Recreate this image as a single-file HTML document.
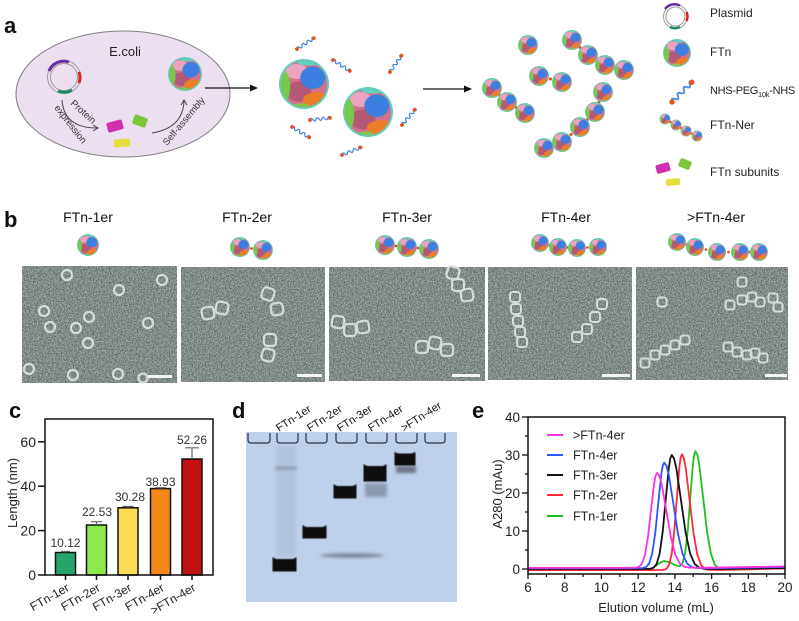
<!DOCTYPE html>
<html><head><meta charset="utf-8"><style>
html,body{margin:0;padding:0;background:#fff;}
svg{display:block;}
text{font-family:"Liberation Sans",Arial,sans-serif;}
.r{fill:none;stroke:#d6dcdb;stroke-width:2.2}
.r2{fill:none;stroke:#d6dcdb;stroke-width:2}
.lk{fill:#e8441c}
</style></head><body>
<svg width="799" height="621" viewBox="0 0 799 621" xmlns="http://www.w3.org/2000/svg">
<defs>
<clipPath id="cc"><circle r="9.2"/></clipPath>
<symbol id="ftn" viewBox="-10 -10 20 20" overflow="visible">
<circle r="10" fill="#62cdb9"/>
<circle r="9.2" fill="#d3708c"/>
<g clip-path="url(#cc)">
<ellipse cx="-3" cy="-5" rx="4.5" ry="3" fill="#eba3c0"/>
<ellipse cx="-2" cy="3" rx="5" ry="4" fill="#b35877"/>
<ellipse cx="3.5" cy="-2.5" rx="5" ry="4.5" fill="#3d7fe0"/>
<ellipse cx="5" cy="6.5" rx="5.5" ry="3.2" fill="#ea7f25"/>
<ellipse cx="-8.5" cy="1" rx="3" ry="6.5" fill="#78c84a"/>
<ellipse cx="-1" cy="9.5" rx="4" ry="1.8" fill="#8bc34a"/>
<ellipse cx="2" cy="-9" rx="5" ry="1.6" fill="#5fd4c0"/>
</g>
</symbol>
<symbol id="peg" viewBox="-2 -4 24 8" overflow="visible">
<path d="M0,0 q1.5,-3 3,0 t3,0 t3,0 t3,0 t3,0 t3,0 t2,0" fill="none" stroke="#4a87df" stroke-width="1.3"/>
<circle cx="0" cy="0" r="1.9" fill="#e8501c"/>
<circle cx="20" cy="0" r="1.9" fill="#e8501c"/>
</symbol>
<filter id="tem" x="0" y="0" width="1" height="1" color-interpolation-filters="sRGB">
<feTurbulence type="fractalNoise" baseFrequency="0.75" numOctaves="2" seed="4"/>
<feColorMatrix type="matrix" values="0.7 0 0 0 0.155  0.7 0 0 0 0.195  0.7 0 0 0 0.188  0 0 0 0 1"/>
</filter>
<filter id="bl"><feGaussianBlur stdDeviation="0.6"/></filter>
<filter id="bl2"><feGaussianBlur stdDeviation="1.6"/></filter>
</defs>

<!-- ================= PANEL A ================= -->
<text x="4" y="33" font-size="22" font-weight="bold" fill="#111">a</text>
<ellipse cx="123" cy="94" rx="107" ry="63" fill="#ebdff0" stroke="#808080" stroke-width="1"/>
<text x="125" y="56" font-size="13" text-anchor="middle" fill="#222">E.coli</text>
<circle cx="64" cy="77" r="16.5" fill="none" stroke="#999" stroke-width="1"/>
<circle cx="64" cy="77" r="13.5" fill="none" stroke="#999" stroke-width="1"/>
<path d="M49,71 A16,16 0 0 1 69,62" fill="none" stroke="#6a2ca0" stroke-width="3"/>
<path d="M79,72 A15,15 0 0 1 79,83" fill="none" stroke="#e02020" stroke-width="3"/>
<path d="M58,91 A15,15 0 0 0 72,90" fill="none" stroke="#1e8a60" stroke-width="3"/>
<path d="M62,100 Q64,128 97,128" fill="none" stroke="#444" stroke-width="1"/>
<path d="M93,125 L98,128 L93,131" fill="none" stroke="#444" stroke-width="1"/>
<path d="M152,133 Q183,128 184,101" fill="none" stroke="#444" stroke-width="1"/>
<path d="M181,105 L184,100 L187,105" fill="none" stroke="#444" stroke-width="1"/>
<text x="0" y="0" font-size="9.5" fill="#333" transform="translate(70,104) rotate(42)">Protein</text>
<text x="0" y="0" font-size="9.5" fill="#333" transform="translate(54,108) rotate(52)">expression</text>
<text x="0" y="0" font-size="9.5" fill="#333" transform="translate(167,146) rotate(-50)">Self-assembly</text>
<rect x="-8" y="-5" width="16" height="10" rx="2" fill="#d030b0" transform="translate(115,126) rotate(-15)"/>
<rect x="-7" y="-5" width="14" height="10" rx="2" fill="#7dc63a" transform="translate(140,121) rotate(20)"/>
<rect x="-8" y="-4" width="16" height="8" rx="2" fill="#e4de3a" transform="translate(122,143) rotate(-5)"/>
<use href="#ftn" x="168" y="57" width="34" height="34"/>
<line x1="205" y1="88" x2="252" y2="88" stroke="#111" stroke-width="1.2"/>
<path d="M250,84.5 L258,88 L250,91.5 Z" fill="#111"/>
<use href="#ftn" x="279" y="59" width="50" height="50"/>
<use href="#ftn" x="343" y="87" width="50" height="50"/>
<use href="#peg" x="0" y="0" width="24" height="8" transform="translate(297,49) rotate(-33) translate(-2,-4)"/>
<use href="#peg" x="0" y="0" width="24" height="8" transform="translate(333,60) rotate(33) translate(-2,-4)"/>
<use href="#peg" x="0" y="0" width="24" height="8" transform="translate(310,120) rotate(-6) translate(-2,-4)"/>
<use href="#peg" x="0" y="0" width="24" height="8" transform="translate(292,127) rotate(31) translate(-2,-4)"/>
<use href="#peg" x="0" y="0" width="24" height="8" transform="translate(342,155) rotate(-22) translate(-2,-4)"/>
<use href="#peg" x="0" y="0" width="24" height="8" transform="translate(390,72) rotate(-55) translate(-2,-4)"/>
<use href="#peg" x="0" y="0" width="24" height="8" transform="translate(402,125) rotate(-50) translate(-2,-4)"/>
<line x1="423" y1="89" x2="466" y2="89" stroke="#111" stroke-width="1.2"/>
<path d="M464,85.5 L472,89 L464,92.5 Z" fill="#111"/>
<g>
<circle class="lk" cx="580" cy="47.5" r="1.5"/><circle class="lk" cx="596.5" cy="60" r="1.5"/><circle class="lk" cx="614.5" cy="67.5" r="1.5"/>
<circle class="lk" cx="550.5" cy="79" r="1.5"/>
<circle class="lk" cx="499.5" cy="95" r="1.5"/><circle class="lk" cx="516" cy="107.5" r="1.5"/>
<circle class="lk" cx="599" cy="102" r="1.5"/><circle class="lk" cx="587.5" cy="119.5" r="1.5"/><circle class="lk" cx="571" cy="134.5" r="1.5"/><circle class="lk" cx="553" cy="145" r="1.5"/>
<use href="#ftn" x="518" y="35" width="20" height="20"/>
<use href="#ftn" x="562" y="30" width="20" height="20"/>
<use href="#ftn" x="578" y="45" width="20" height="20"/>
<use href="#ftn" x="595" y="55" width="20" height="20"/>
<use href="#ftn" x="614" y="60" width="20" height="20"/>
<use href="#ftn" x="529" y="66" width="20" height="20"/>
<use href="#ftn" x="552" y="72" width="20" height="20"/>
<use href="#ftn" x="482" y="78" width="20" height="20"/>
<use href="#ftn" x="497" y="92" width="20" height="20"/>
<use href="#ftn" x="515" y="103" width="20" height="20"/>
<use href="#ftn" x="593" y="82" width="20" height="20"/>
<use href="#ftn" x="585" y="102" width="20" height="20"/>
<use href="#ftn" x="570" y="117" width="20" height="20"/>
<use href="#ftn" x="552" y="132" width="20" height="20"/>
<use href="#ftn" x="534" y="138" width="20" height="20"/>
</g>
<circle cx="675.5" cy="16.5" r="12" fill="none" stroke="#999" stroke-width="1"/>
<circle cx="675.5" cy="16.5" r="9.5" fill="none" stroke="#999" stroke-width="1"/>
<path d="M665,9 A12,12 0 0 1 680,5.5" fill="none" stroke="#6a2ca0" stroke-width="2.5"/>
<path d="M686.5,12 A11,11 0 0 1 686.5,21" fill="none" stroke="#e02020" stroke-width="2.5"/>
<path d="M670,27 A11,11 0 0 0 680,27" fill="none" stroke="#1e8a60" stroke-width="2.5"/>
<text x="710" y="17" font-size="12" fill="#222">Plasmid</text>
<use href="#ftn" x="663" y="39" width="28" height="28"/>
<text x="710" y="56" font-size="12" fill="#222">FTn</text>
<use href="#peg" x="0" y="0" width="24" height="8" transform="translate(672,102) rotate(-45) scale(1.4) translate(-2,-4)"/>
<text x="710" y="94" font-size="11" letter-spacing="-0.3" fill="#222">NHS-PEG<tspan font-size="7.5" dy="3">10k</tspan><tspan dy="-3">-NHS</tspan></text>
<circle class="lk" cx="670.5" cy="122" r="1.2"/><circle class="lk" cx="681" cy="128" r="1.2"/><circle class="lk" cx="691.5" cy="133.5" r="1.2"/>
<use href="#ftn" x="659.5" y="113.5" width="11" height="11"/>
<use href="#ftn" x="670.5" y="119.5" width="11" height="11"/>
<use href="#ftn" x="680.5" y="125.5" width="11" height="11"/>
<use href="#ftn" x="691.5" y="130.5" width="11" height="11"/>
<text x="710" y="129" font-size="12" fill="#222">FTn-Ner</text>
<rect x="-7" y="-4.5" width="14" height="9" rx="2" fill="#d030b0" transform="translate(663,168) rotate(-15)"/>
<rect x="-6" y="-4.5" width="12" height="9" rx="2" fill="#7dc63a" transform="translate(685,164) rotate(22)"/>
<rect x="-7" y="-3.5" width="14" height="7" rx="2" fill="#e4de3a" transform="translate(673,182) rotate(-5)"/>
<text x="710" y="176" font-size="12" fill="#222">FTn subunits</text>

<!-- ================= PANEL B ================= -->
<text x="4" y="227" font-size="22" font-weight="bold" fill="#111">b</text>
<g font-size="14" text-anchor="middle" fill="#111">
<text x="88" y="222">FTn-1er</text>
<text x="247" y="222">FTn-2er</text>
<text x="407" y="222">FTn-3er</text>
<text x="566" y="222">FTn-4er</text>
<text x="716" y="222">&gt;FTn-4er</text>
</g>
<use href="#ftn" x="77" y="234" width="22" height="22"/>
<circle class="lk" cx="251.5" cy="248.5" r="1.4"/>
<use href="#ftn" x="230" y="237" width="20" height="20"/>
<use href="#ftn" x="253" y="240" width="20" height="20"/>
<circle class="lk" cx="396" cy="246" r="1.4"/><circle class="lk" cx="418" cy="248" r="1.4"/>
<use href="#ftn" x="375" y="235" width="20" height="20"/>
<use href="#ftn" x="397" y="237" width="20" height="20"/>
<use href="#ftn" x="419" y="239" width="20" height="20"/>
<circle class="lk" cx="549" cy="245" r="1.3"/><circle class="lk" cx="567.5" cy="247.5" r="1.3"/><circle class="lk" cx="587.5" cy="247.5" r="1.3"/>
<use href="#ftn" x="531" y="234" width="18" height="18"/>
<use href="#ftn" x="549" y="238" width="18" height="18"/>
<use href="#ftn" x="568" y="239" width="18" height="18"/>
<use href="#ftn" x="589" y="238" width="18" height="18"/>
<circle class="lk" cx="686" cy="244.5" r="1.3"/><circle class="lk" cx="706" cy="249.5" r="1.3"/><circle class="lk" cx="728.5" cy="252" r="1.3"/><circle class="lk" cx="749.5" cy="252" r="1.3"/>
<use href="#ftn" x="668" y="233" width="18" height="18"/>
<use href="#ftn" x="686" y="238" width="18" height="18"/>
<use href="#ftn" x="708" y="243" width="18" height="18"/>
<use href="#ftn" x="731" y="243" width="18" height="18"/>
<use href="#ftn" x="750" y="243" width="18" height="18"/>

<rect x="22" y="266" width="155" height="117" filter="url(#tem)"/>
<rect x="181" y="267" width="144" height="115" filter="url(#tem)"/>
<rect x="329" y="267" width="156" height="114" filter="url(#tem)"/>
<rect x="488" y="267" width="144" height="113" filter="url(#tem)"/>
<rect x="636" y="267" width="152" height="113" filter="url(#tem)"/>
<g class="r">
<circle cx="67" cy="275" r="5"/><circle cx="119" cy="290" r="5"/><circle cx="162" cy="280" r="5"/>
<circle cx="44" cy="311" r="5"/><circle cx="89" cy="317" r="5"/><circle cx="50" cy="327" r="5"/>
<circle cx="76" cy="328" r="5"/><circle cx="148" cy="323" r="5"/><circle cx="88" cy="343" r="5"/>
<circle cx="29" cy="369" r="5"/><circle cx="73" cy="375" r="5"/><circle cx="118" cy="374" r="5"/>
<circle cx="143" cy="378" r="4.5"/>
</g>
<g class="r">
<rect x="202" y="307" width="12" height="12" rx="3.5" transform="rotate(-10 208 313)"/>
<rect x="216" y="302" width="12" height="12" rx="3.5" transform="rotate(10 222 308)"/>
<rect x="262" y="288" width="12" height="12" rx="3.5" transform="rotate(20 268 294)"/>
<rect x="271" y="303" width="12" height="12" rx="3.5" transform="rotate(-10 277 309)"/>
<rect x="264" y="334" width="12" height="12" rx="3.5"/>
<rect x="262" y="349" width="12" height="12" rx="3.5" transform="rotate(15 268 355)"/>
<rect x="332" y="316" width="12" height="12" rx="3.5" transform="rotate(10 338 322)"/>
<rect x="344" y="324" width="12" height="12" rx="3.5"/>
<rect x="357" y="321" width="12" height="12" rx="3.5" transform="rotate(-10 363 327)"/>
<rect x="447" y="267" width="12" height="12" rx="3.5" transform="rotate(15 453 273)"/>
<rect x="452" y="279" width="12" height="12" rx="3.5"/>
<rect x="461" y="289" width="12" height="12" rx="3.5" transform="rotate(-10 467 295)"/>
<rect x="416" y="341" width="12" height="12" rx="3.5"/>
<rect x="429" y="337" width="12" height="12" rx="3.5" transform="rotate(12 435 343)"/>
<rect x="441" y="344" width="12" height="12" rx="3.5"/>
</g>
<g class="r2">
<rect x="510" y="292" width="10" height="10" rx="3"/><rect x="511" y="304" width="10" height="10" rx="3"/>
<rect x="513" y="316" width="10" height="10" rx="3"/><rect x="515" y="327" width="10" height="10" rx="3"/>
<rect x="517" y="337" width="10" height="10" rx="3"/>
<rect x="572" y="332" width="10" height="10" rx="3"/><rect x="582" y="324" width="10" height="10" rx="3"/>
<rect x="590" y="312" width="10" height="10" rx="3"/><rect x="597" y="299" width="10" height="10" rx="3"/>
<rect x="657.5" y="297.5" width="9" height="9" rx="2.5"/><rect x="737.5" y="277.5" width="9" height="9" rx="2.5"/>
<rect x="725.5" y="300.5" width="9" height="9" rx="2.5"/><rect x="737.5" y="295.5" width="9" height="9" rx="2.5"/>
<rect x="747.5" y="292.5" width="9" height="9" rx="2.5"/><rect x="755.5" y="297.5" width="9" height="9" rx="2.5"/>
<rect x="768.5" y="293.5" width="9" height="9" rx="2.5"/><rect x="773.5" y="302.5" width="9" height="9" rx="2.5"/>
<rect x="640.5" y="358.5" width="9" height="9" rx="2.5"/><rect x="650.5" y="350.5" width="9" height="9" rx="2.5"/>
<rect x="660.5" y="345.5" width="9" height="9" rx="2.5"/><rect x="670.5" y="340.5" width="9" height="9" rx="2.5"/>
<rect x="680.5" y="335.5" width="9" height="9" rx="2.5"/>
<rect x="723.5" y="342.5" width="9" height="9" rx="2.5"/><rect x="732.5" y="347.5" width="9" height="9" rx="2.5"/>
<rect x="742.5" y="350.5" width="9" height="9" rx="2.5"/><rect x="750.5" y="348.5" width="9" height="9" rx="2.5"/>
<rect x="758.5" y="353.5" width="9" height="9" rx="2.5"/>
</g>
<g fill="#f4f4f4">
<rect x="148" y="375" width="24" height="3"/>
<rect x="297" y="374" width="25" height="3"/>
<rect x="452" y="374" width="28" height="3"/>
<rect x="602" y="374" width="28" height="3"/>
<rect x="765" y="374" width="22" height="3"/>
</g>

<!-- ================= PANEL C ================= -->
<text x="9" y="418" font-size="22" font-weight="bold" fill="#111">c</text>
<g stroke="#111" stroke-width="1.5">
<rect x="55.5" y="552.5" width="20" height="22.5" fill="#27a46a"/>
<rect x="86.5" y="525" width="20" height="50" fill="#8ce84b"/>
<rect x="118" y="507.8" width="20" height="67.2" fill="#fcdb55"/>
<rect x="150.5" y="488.6" width="20" height="86.4" fill="#f28818"/>
<rect x="182" y="459" width="20" height="116" fill="#c0100f"/>
</g>
<g stroke="#666" stroke-width="1.2" fill="none">
<path d="M65.5,552.5 V551.5 M61,551.5 H70"/>
<path d="M96.5,525 V521.7 M91,521.7 H102"/>
<path d="M128,507.8 V506.4 M122.5,506.4 H133.5"/>
<path d="M160.5,488.6 V487.7 M155,487.7 H166"/>
<path d="M192,459 V447.8 M185,447.8 H199"/>
</g>
<rect x="45" y="419" width="168" height="156" fill="none" stroke="#111" stroke-width="1.5"/>
<g stroke="#111" stroke-width="1.5">
<line x1="38" y1="575" x2="45" y2="575"/><line x1="38" y1="530.6" x2="45" y2="530.6"/>
<line x1="38" y1="486.2" x2="45" y2="486.2"/><line x1="38" y1="441.8" x2="45" y2="441.8"/>
<line x1="65.5" y1="575" x2="65.5" y2="580"/><line x1="96.5" y1="575" x2="96.5" y2="580"/>
<line x1="128" y1="575" x2="128" y2="580"/><line x1="160.5" y1="575" x2="160.5" y2="580"/>
<line x1="192" y1="575" x2="192" y2="580"/>
</g>
<g font-size="14" text-anchor="end" fill="#222">
<text x="36" y="580">0</text><text x="36" y="535.6">20</text>
<text x="36" y="491.2">40</text><text x="36" y="446.8">60</text>
</g>
<text x="0" y="0" font-size="13" text-anchor="middle" fill="#222" transform="translate(17,493) rotate(-90)">Length (nm)</text>
<g font-size="12" text-anchor="middle" fill="#333">
<text x="65.5" y="547">10.12</text><text x="97" y="516">22.53</text>
<text x="130" y="501">30.28</text><text x="160.5" y="486">38.93</text>
<text x="192" y="444">52.26</text>
</g>
<g font-size="12" text-anchor="end" fill="#222">
<text transform="translate(70,590) rotate(-30)">FTn-1er</text>
<text transform="translate(101,590) rotate(-30)">FTn-2er</text>
<text transform="translate(132.5,590) rotate(-30)">FTn-3er</text>
<text transform="translate(165,590) rotate(-30)">FTn-4er</text>
<text transform="translate(196.5,590) rotate(-30)">&gt;FTn-4er</text>
</g>

<!-- ================= PANEL D ================= -->
<text x="232" y="418" font-size="22" font-weight="bold" fill="#111">d</text>
<rect x="246" y="432" width="211" height="170" fill="#bfd1ea"/>
<g fill="none" stroke="#2a2f3a" stroke-width="1.2">
<path d="M248,433 v7 q0,3 3,3 h16 q3,0 3,-3 v-7"/>
<path d="M277,433 v7 q0,3 3,3 h15 q3,0 3,-3 v-7"/>
<path d="M306,433 v7 q0,3 3,3 h15 q3,0 3,-3 v-7"/>
<path d="M336,433 v7 q0,3 3,3 h15 q3,0 3,-3 v-7"/>
<path d="M366,433 v7 q0,3 3,3 h15 q3,0 3,-3 v-7"/>
<path d="M396,433 v7 q0,3 3,3 h15 q3,0 3,-3 v-7"/>
<path d="M425,433 v7 q0,3 3,3 h14 q3,0 3,-3 v-7"/>
</g>
<g filter="url(#bl2)">
<rect x="276" y="445" width="20" height="112" fill="#aabbd6" opacity="0.6"/>
<rect x="275" y="467" width="22" height="2.5" fill="#7d8798"/>
<rect x="365" y="483" width="22" height="14" fill="#8e9ab0"/>
<rect x="396" y="466" width="20" height="7" fill="#6d7585"/>
<ellipse cx="352" cy="555.5" rx="32" ry="2" fill="#6e7a8e"/>
</g>
<g fill="#080810" filter="url(#bl)">
<path d="M272.5,557 q2,1.5 4,2 h16 q2,-0.5 4,-2 v14.5 h-24 z"/>
<path d="M302.5,525 q2,1.5 4,2 h16 q2,-0.5 4,-2 v13.5 h-24 z"/>
<path d="M333.5,484 q2,1.5 4,2 h15 q2,-0.5 4,-2 v14.5 h-23 z"/>
<path d="M363.5,464 q2,1.5 4,2 h15 q2,-0.5 4,-2 v17.5 h-23 z"/>
<path d="M394.5,452 q2,1 4,1.5 h13 q2,-0.5 4,-1.5 v13.5 h-21 z"/>
</g>
<g font-size="11" fill="#111">
<text transform="translate(279,432) rotate(-33)">FTn-1er</text>
<text transform="translate(310,432) rotate(-33)">FTn-2er</text>
<text transform="translate(340,432) rotate(-33)">FTn-3er</text>
<text transform="translate(371,432) rotate(-33)">FTn-4er</text>
<text transform="translate(404,432) rotate(-33)">&gt;FTn-4er</text>
</g>

<!-- ================= PANEL E ================= -->
<text x="472" y="418" font-size="22" font-weight="bold" fill="#111">e</text>
<g fill="none" stroke-width="1.8" stroke-linejoin="round">
<path stroke="#1fc01c" d="M528,569.8 L640,569.76 L646,569.6 L651,568.65 L655,566.5 L659,563.3 L664,561.0 L669,562.05 L674,564.46 L677.45,565.96 L680.02,566.0 L682.59,563.0 L685.16,552.78 L687.73,530.76 L690.3,497.6 L692.87,465.06 L694.16,454.86 L695.44,451.16 L697.37,454.86 L699.3,465.06 L703.15,497.86 L707.0,531.26 L710.86,553.71 L714.72,564.55 L718.57,568.44 L722.42,569.5 L735,569.7 L785,568"/>
<path stroke="#ff2838" d="M528,570.1 L650,570.1 L663.87,569.89 L666.44,568.85 L669.01,565.05 L671.58,554.46 L674.15,532.51 L676.72,499.85 L679.29,467.86 L680.58,457.84 L681.86,454.24 L683.79,457.84 L685.72,467.86 L689.57,499.85 L693.43,532.51 L697.28,554.46 L701.14,565.05 L704.99,568.85 L708.85,569.89 L720,570 L785,568.5"/>
<path stroke="#111" d="M528,569 L630,569 L650.56,568.75 L653.58,567.73 L656.61,564.0 L659.64,553.58 L662.67,532.0 L665.7,499.86 L668.73,468.4 L670.25,458.5 L671.76,455 L674.06,458.5 L676.35,468.4 L680.94,499.86 L685.53,532.0 L690.12,553.58 L694.71,564.0 L699.3,567.73 L703.89,568.75 L715,569 L785,568"/>
<path stroke="#2a55ff" d="M528,568.2 L625,568.2 L643.03,568.0 L646.05,567.07 L649.08,563.6 L652.11,553.95 L655.14,533.94 L658.17,504.17 L661.2,475.0 L662.7,465.9 L664.23,462.6 L666.5,465.9 L668.82,475.0 L673.41,504.17 L678.0,533.94 L682.59,553.95 L687.18,563.6 L691.77,567.07 L696.36,568.0 L710,568.2 L785,567"/>
<path stroke="#ff30e0" d="M528,567.9 L620,567.9 L635.86,567.65 L638.9,566.8 L641.9,563.7 L644.95,555.0 L647.98,537.0 L651.0,510.2 L654.04,484.0 L655.55,475.8 L657.07,472.9 L659.37,475.8 L661.66,484.0 L666.25,510.2 L670.84,537.0 L675.43,555.0 L680.02,563.7 L684.6,566.8 L689.2,567.65 L700,567.8 L785,566.5"/>
</g>
<rect x="528" y="417" width="257" height="157" fill="none" stroke="#111" stroke-width="1.5"/>
<g stroke="#111" stroke-width="1.3">
<line x1="522" y1="569" x2="528" y2="569"/><line x1="525" y1="550" x2="528" y2="550"/>
<line x1="522" y1="531" x2="528" y2="531"/><line x1="525" y1="512" x2="528" y2="512"/>
<line x1="522" y1="493" x2="528" y2="493"/><line x1="525" y1="474" x2="528" y2="474"/>
<line x1="522" y1="455" x2="528" y2="455"/><line x1="525" y1="436" x2="528" y2="436"/>
<line x1="522" y1="417" x2="528" y2="417"/>
<line x1="528" y1="574" x2="528" y2="579"/><line x1="546.4" y1="574" x2="546.4" y2="577"/>
<line x1="564.7" y1="574" x2="564.7" y2="579"/><line x1="583.1" y1="574" x2="583.1" y2="577"/>
<line x1="601.4" y1="574" x2="601.4" y2="579"/><line x1="619.8" y1="574" x2="619.8" y2="577"/>
<line x1="638.2" y1="574" x2="638.2" y2="579"/><line x1="656.5" y1="574" x2="656.5" y2="577"/>
<line x1="674.9" y1="574" x2="674.9" y2="579"/><line x1="693.2" y1="574" x2="693.2" y2="577"/>
<line x1="711.6" y1="574" x2="711.6" y2="579"/><line x1="730" y1="574" x2="730" y2="577"/>
<line x1="748.3" y1="574" x2="748.3" y2="579"/><line x1="766.7" y1="574" x2="766.7" y2="577"/>
<line x1="785" y1="574" x2="785" y2="579"/>
</g>
<g font-size="13.5" text-anchor="end" fill="#222">
<text x="520" y="574">0</text><text x="520" y="536">10</text><text x="520" y="498">20</text>
<text x="520" y="460">30</text><text x="520" y="422">40</text>
</g>
<g font-size="13.5" text-anchor="middle" fill="#222">
<text x="528" y="592">6</text><text x="564.7" y="592">8</text><text x="601.4" y="592">10</text>
<text x="638.2" y="592">12</text><text x="674.9" y="592">14</text><text x="711.6" y="592">16</text>
<text x="748.3" y="592">18</text><text x="785" y="592">20</text>
</g>
<text x="656" y="612" font-size="13" text-anchor="middle" fill="#222">Elution volume (mL)</text>
<text x="0" y="0" font-size="13" text-anchor="middle" fill="#222" transform="translate(502,494) rotate(-90)">A280 (mAu)</text>
<g stroke-width="2">
<line x1="547" y1="435" x2="563" y2="435" stroke="#ff30e0"/>
<line x1="547" y1="455" x2="563" y2="455" stroke="#2a55ff"/>
<line x1="547" y1="475" x2="563" y2="475" stroke="#111"/>
<line x1="547" y1="495" x2="563" y2="495" stroke="#ff2838"/>
<line x1="547" y1="516" x2="563" y2="516" stroke="#1fc01c"/>
</g>
<g font-size="12.5" fill="#222">
<text x="573" y="439.5">&gt;FTn-4er</text>
<text x="573" y="459.5">FTn-4er</text>
<text x="573" y="479.5">FTn-3er</text>
<text x="573" y="499.5">FTn-2er</text>
<text x="573" y="520.5">FTn-1er</text>
</g>
</svg>
</body></html>
